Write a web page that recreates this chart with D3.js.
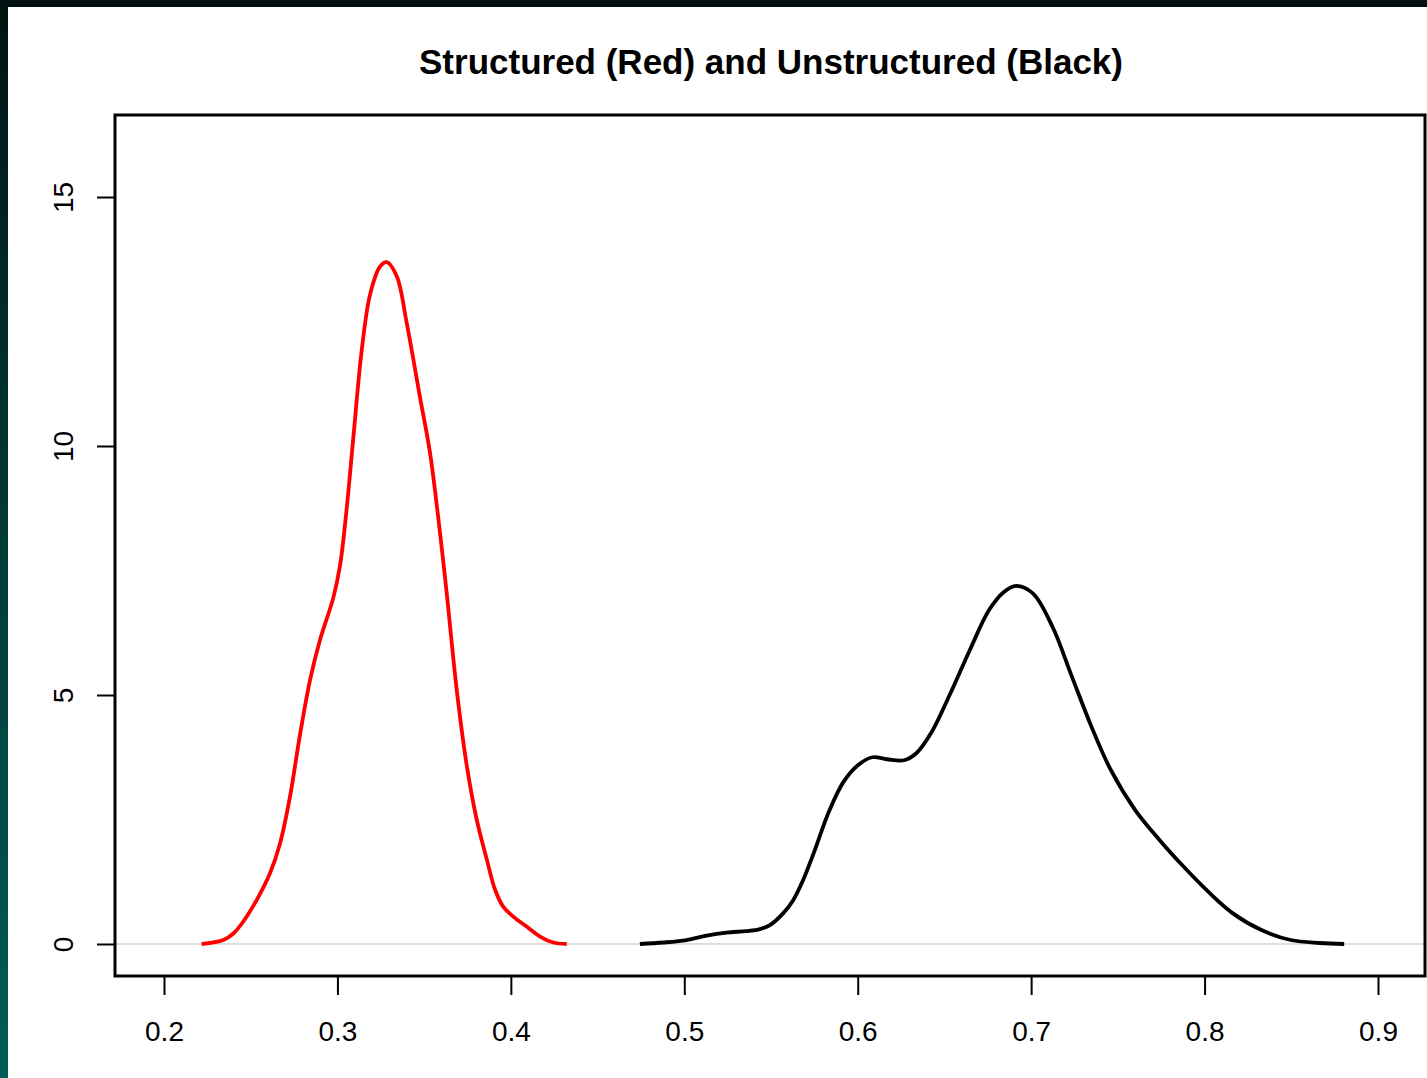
<!DOCTYPE html>
<html>
<head>
<meta charset="utf-8">
<script src="https://cdn.jsdelivr.net/npm/d3@7"></script>
<style>
  html, body { margin: 0; padding: 0; background: #ffffff; }
  svg { display: block; }
</style>
</head>
<body>
<svg id="chart" width="1427" height="1078"></svg>
<script>
// ---- data ----
const titleText = "Structured (Red) and Unstructured (Black)";
const xTicks = [0.2, 0.3, 0.4, 0.5, 0.6, 0.7, 0.8, 0.9];
const yTicks = [0, 5, 10, 15];

// Structured density (red)
const redX = [0.2217, 0.2342, 0.2400, 0.2457, 0.2534, 0.2611, 0.2669, 0.2726, 0.2784, 0.2842,
              0.2899, 0.2976, 0.3015, 0.3053, 0.3091, 0.3140, 0.3188, 0.3245, 0.3284, 0.3342,
              0.3399, 0.3476, 0.3534, 0.3591, 0.3630, 0.3688, 0.3745, 0.3803, 0.3861, 0.3908,
              0.3956, 0.4014, 0.4091, 0.4168, 0.4245, 0.4322];
const redY = [0.00, 0.08, 0.21, 0.45, 0.88, 1.42, 2.02, 2.95, 4.20, 5.30,
              6.10, 6.95, 7.60, 8.73, 10.14, 11.92, 13.04, 13.60, 13.69, 13.41,
              12.48, 10.98, 9.86, 8.27, 7.05, 5.10, 3.60, 2.50, 1.70, 1.10,
              0.75, 0.55, 0.35, 0.15, 0.03, 0.00];

// Unstructured density (black)
const blackX = [0.4744, 0.4879, 0.5014, 0.5129, 0.5244, 0.5360, 0.5436, 0.5494, 0.5571, 0.5628,
                0.5686, 0.5749, 0.5833, 0.5917, 0.6001, 0.6085, 0.6169, 0.6267, 0.6338, 0.6422,
                0.6534, 0.6646, 0.6758, 0.6843, 0.6912, 0.7010, 0.7123, 0.7235, 0.7347, 0.7460,
                0.7600, 0.7740, 0.7880, 0.8021, 0.8161, 0.8328, 0.8497, 0.8665, 0.8805];
const blackY = [0.00, 0.03, 0.08, 0.17, 0.23, 0.26, 0.30, 0.38, 0.62, 0.88,
                1.29, 1.85, 2.65, 3.25, 3.59, 3.75, 3.71, 3.69, 3.83, 4.23,
                5.03, 5.90, 6.71, 7.07, 7.19, 7.04, 6.37, 5.37, 4.37, 3.49,
                2.69, 2.09, 1.55, 1.05, 0.62, 0.28, 0.08, 0.02, 0.00];

// ---- layout ----
const svg = d3.select("#chart");
const W = 1427, H = 1078;
const box = { left: 115, top: 115, right: 1425, bottom: 976 };
const fontFam = "'Liberation Sans', Arial, sans-serif";

// outer dark frame (top and left strips)
const defs = svg.append("defs");
const grad = defs.append("linearGradient").attr("id", "leftGrad")
  .attr("x1", 0).attr("y1", 0).attr("x2", 0).attr("y2", 1);
grad.append("stop").attr("offset", "0%").attr("stop-color", "#001311");
grad.append("stop").attr("offset", "40%").attr("stop-color", "#013430");
grad.append("stop").attr("offset", "100%").attr("stop-color", "#005c57");
svg.append("rect").attr("x", 0).attr("y", 0).attr("width", 8).attr("height", H).attr("fill", "url(#leftGrad)");
svg.append("rect").attr("x", 0).attr("y", 0).attr("width", W).attr("height", 7).attr("fill", "#02110f");

const x = d3.scaleLinear().domain([0.2, 0.9]).range([164, 1378]);
const y = d3.scaleLinear().domain([0, 15]).range([944, 197]);

// title
svg.append("text")
  .attr("x", 771)
  .attr("y", 74)
  .attr("text-anchor", "middle")
  .attr("font-family", fontFam)
  .attr("font-weight", "bold")
  .attr("font-size", 35)
  .attr("fill", "#000")
  .text(titleText);

// zero line
svg.append("line")
  .attr("x1", box.left).attr("x2", box.right)
  .attr("y1", y(0)).attr("y2", y(0))
  .attr("stroke", "#d3d3d3").attr("stroke-width", 1.5);

// curves
const line = d3.line().x(d => x(d[0])).y(d => y(d[1])).curve(d3.curveCatmullRom.alpha(0.5));
const redData = d3.zip(redX, redY);
const blackData = d3.zip(blackX, blackY);

svg.append("path").datum(redData)
  .attr("d", line).attr("fill", "none")
  .attr("stroke", "#ff0000").attr("stroke-width", 3.8)
  .attr("stroke-linejoin", "round").attr("stroke-linecap", "butt");

svg.append("path").datum(blackData)
  .attr("d", line).attr("fill", "none")
  .attr("stroke", "#000000").attr("stroke-width", 3.8)
  .attr("stroke-linejoin", "round").attr("stroke-linecap", "butt");

// axes
const xAxis = d3.axisBottom(x).tickValues(xTicks).tickSize(19).tickPadding(26)
  .tickFormat(d3.format(".1f"));
const gx = svg.append("g").attr("transform", `translate(0,${box.bottom})`).call(xAxis);
gx.select(".domain").remove();
gx.selectAll(".tick line").attr("stroke", "#000").attr("stroke-width", 2);
gx.selectAll(".tick text").attr("font-family", fontFam).attr("font-size", 28).attr("fill", "#000");

const yAxis = d3.axisLeft(y).tickValues(yTicks).tickSize(18).tickFormat(d3.format("d"));
const gy = svg.append("g").attr("transform", `translate(${box.left},0)`).call(yAxis);
gy.select(".domain").remove();
gy.selectAll(".tick line").attr("stroke", "#000").attr("stroke-width", 2);
gy.selectAll(".tick text")
  .attr("font-family", fontFam).attr("font-size", 28).attr("fill", "#000")
  .attr("text-anchor", "middle")
  .attr("dy", null)
  .attr("x", null)
  .attr("transform", "translate(-42,0) rotate(-90)");

// plot box
svg.append("rect")
  .attr("x", box.left).attr("y", box.top)
  .attr("width", box.right - box.left).attr("height", box.bottom - box.top)
  .attr("fill", "none").attr("stroke", "#000").attr("stroke-width", 3);
</script>
</body>
</html>
